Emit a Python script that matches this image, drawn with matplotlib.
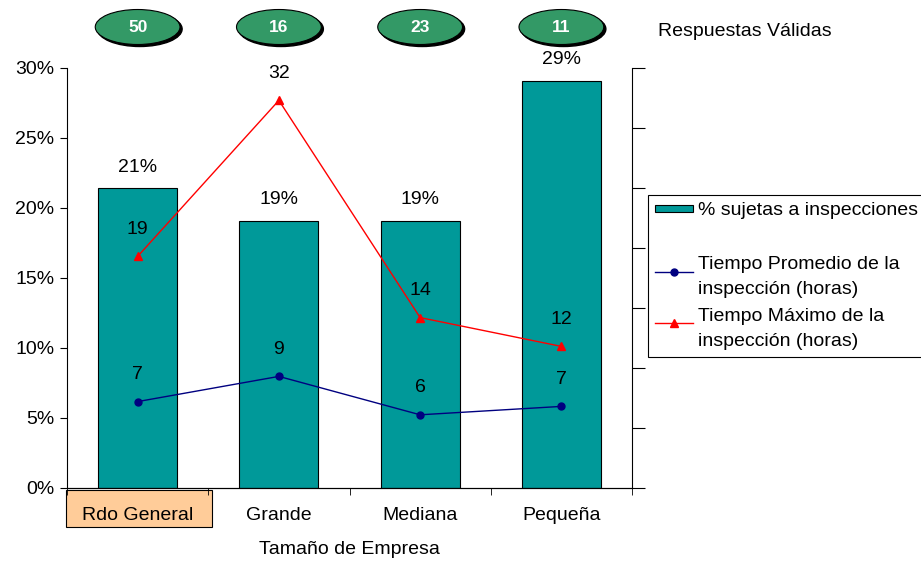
import numpy as np
import matplotlib
matplotlib.use("Agg")
import matplotlib.pyplot as plt
from matplotlib.patches import Ellipse, Rectangle
from matplotlib.lines import Line2D
from matplotlib.legend_handler import HandlerPatch, HandlerLine2D
import matplotlib.transforms as mtransforms

plt.rcParams['font.family'] = ['Liberation Sans', 'DejaVu Sans']
plt.rcParams['font.size'] = 14

# datos por tamaño de empresa
categorias = ["Rdo General", "Grande", "Mediana", "Pequeña"]
respuestas = [50, 16, 23, 11]
pct_sujetas = [21.4, 19.1, 19.1, 29.1]          # % sujetas a inspecciones
tiempo_promedio = [7.2, 9.3, 6.1, 6.8]          # horas
tiempo_maximo = [19.3, 32.3, 14.2, 11.8]        # horas

W, H = 921, 562
fig = plt.figure(figsize=(W / 100, H / 100), dpi=100)
ax = fig.add_axes([67 / W, 1 - 488 / H, (632 - 67) / W, (488 - 68) / H])
ax2 = ax.twinx()

x = np.arange(len(categorias))

# barras
ax.bar(x, pct_sujetas, width=0.56, color="#009999", edgecolor="black",
       linewidth=0.8, zorder=2)
for xi, v in zip(x, pct_sujetas):
    ax.annotate(f"{v:.0f}%", (xi, v), xytext=(0, 15), textcoords="offset points",
                ha="center", va="center")

ax.set_xlim(-0.5, len(categorias) - 0.5)
ax.set_ylim(0, 30)
ax.set_yticks(np.arange(0, 31, 5))
ax.set_yticklabels([f"{t}%" for t in range(0, 31, 5)])
ax.set_xticks(x)
ax.set_xticklabels(categorias)
ax.set_xticks(np.arange(-0.5, len(categorias)), minor=True)
ax.tick_params(axis="x", which="major", length=0, pad=14)
ax.tick_params(axis="x", which="minor", length=5, direction="out")
ax.tick_params(axis="y", length=5, direction="out", pad=4)
ax.set_xlabel("Tamaño de Empresa", labelpad=12)
ax.spines["top"].set_visible(False)
ax.spines["right"].set_visible(False)

# lineas de tiempo sobre el eje secundario
l1, = ax2.plot(x, tiempo_promedio, color="#000080", marker="o", markersize=5,
               linewidth=1)
l2, = ax2.plot(x, tiempo_maximo, color="#FF0000", marker="^", markersize=6,
               linewidth=1)
for serie in (tiempo_promedio, tiempo_maximo):
    for xi, v in zip(x, serie):
        ax2.annotate(f"{v:.0f}", (xi, v), xytext=(0, 19.5), textcoords="offset points",
                     ha="center", va="center")
ax2.set_ylim(0, 35)
ax2.set_yticks(np.arange(0, 36, 5))
ax2.set_yticklabels([])
ax2.tick_params(axis="y", length=9, direction="out")
ax2.spines["top"].set_visible(False)
ax2.spines["left"].set_visible(False)

# caja de la categoria general
trans = mtransforms.blended_transform_factory(ax.transData, fig.transFigure)
ax.add_patch(Rectangle((-0.51, 1 - 527 / H), 1.04, 37 / H, transform=trans,
                       facecolor="#FFCC99", edgecolor="black", linewidth=0.8,
                       clip_on=False, zorder=0))

# respuestas validas
for xi, n in zip(x, respuestas):
    sombra = Ellipse((xi + 0.015, 1 - 29 / H), 0.6, 35 / H, transform=trans,
                     facecolor="black", edgecolor="black", clip_on=False)
    elip = Ellipse((xi, 1 - 27 / H), 0.6, 35 / H, transform=trans,
                   facecolor="#339966", edgecolor="black", linewidth=0.8, clip_on=False)
    ax.add_patch(sombra)
    ax.add_patch(elip)
    ax.text(xi, 1 - 27 / H, str(n), transform=trans, ha="center", va="center",
            color="white", fontweight="bold", fontsize=12.5)
fig.text(658 / W, 1 - 32 / H, "Respuestas Válidas", ha="left", va="center")


def caja_fina(legend, orig_handle, xdescent, ydescent, width, height, fontsize):
    h = height * 0.55
    return Rectangle((-xdescent, -ydescent + (height - h) / 2), width, h)


class LineaArriba(HandlerLine2D):
    # sube la muestra de linea a la altura de la primera linea del texto
    def create_artists(self, legend, orig_handle, xdescent, ydescent,
                       width, height, fontsize, trans):
        return super().create_artists(legend, orig_handle, xdescent, ydescent - 8,
                                      width, height, fontsize, trans)


# leyenda
barra = Rectangle((0, 0), 1, 1, facecolor="#009999", edgecolor="black", linewidth=0.8)
vacio = Line2D([], [], color="none")
leg = fig.legend([barra, vacio, l1, l2],
                 ["% sujetas a inspecciones", " ",
                  "Tiempo Promedio de la\ninspección (horas)",
                  "Tiempo Máximo de la\ninspección (horas)"],
                 handler_map={barra: HandlerPatch(patch_func=caja_fina),
                              l1: LineaArriba(), l2: LineaArriba()},
                 loc="upper left", bbox_to_anchor=(648 / W, 1 - 195 / H),
                 borderaxespad=0, fancybox=False, edgecolor="black",
                 framealpha=1, handlelength=1.95, labelspacing=0.5,
                 handletextpad=0.25, borderpad=0.35)
leg.get_frame().set_linewidth(0.8)
for t in leg.get_texts():
    t.set_linespacing(1.6)

fig.savefig("out.png", dpi=100)
